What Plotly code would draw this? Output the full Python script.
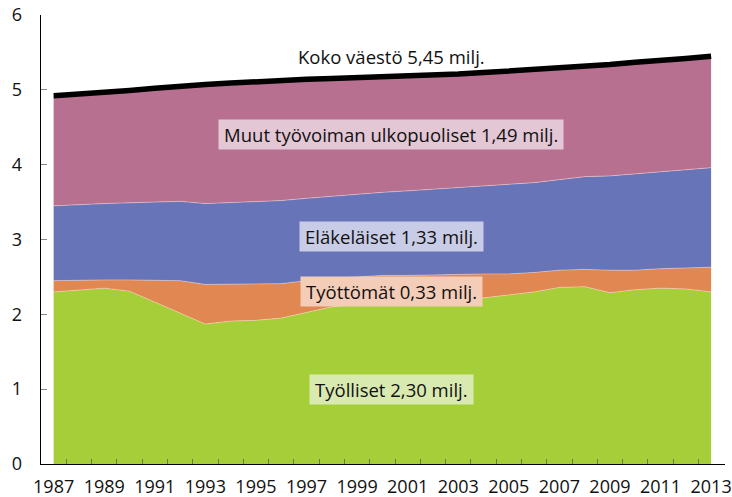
import plotly.graph_objects as go

years = list(range(1987, 2014))

# millions of persons
tyolliset = [2.30, 2.33, 2.35, 2.31, 2.16, 2.02, 1.87, 1.91, 1.92, 1.95, 2.03, 2.10, 2.13,
             2.14, 2.16, 2.18, 2.20, 2.22, 2.26, 2.30, 2.36, 2.37, 2.29, 2.33, 2.35, 2.34, 2.30]
tyottomat = [0.15, 0.13, 0.11, 0.15, 0.29, 0.43, 0.53, 0.49, 0.48, 0.46, 0.42, 0.38, 0.37,
             0.38, 0.36, 0.35, 0.33, 0.32, 0.28, 0.26, 0.23, 0.23, 0.30, 0.26, 0.26, 0.28, 0.33]
elakelaiset = [1.00, 1.01, 1.02, 1.03, 1.05, 1.06, 1.08, 1.09, 1.10, 1.11, 1.10, 1.10, 1.10,
               1.11, 1.13, 1.14, 1.16, 1.17, 1.19, 1.20, 1.21, 1.24, 1.26, 1.29, 1.30, 1.32, 1.33]
muut = [1.47, 1.47, 1.48, 1.50, 1.52, 1.54, 1.59, 1.60, 1.61, 1.61, 1.59, 1.57, 1.56,
        1.54, 1.53, 1.53, 1.52, 1.52, 1.52, 1.51, 1.49, 1.48, 1.49, 1.49, 1.48, 1.48, 1.49]
koko_vaesto = [4.92, 4.94, 4.96, 4.99, 5.02, 5.05, 5.07, 5.09, 5.11, 5.13, 5.14, 5.15, 5.16,
               5.17, 5.18, 5.20, 5.21, 5.23, 5.25, 5.27, 5.29, 5.32, 5.34, 5.37, 5.39, 5.42, 5.45]

tick_years = years[::2]
tick_labels = [str(y) for y in tick_years]
minor_ticks = [y + 0.5 for y in years[:-1]]

series = [
    ("Työlliset", tyolliset, "#a6ce39"),
    ("Työttömät", tyottomat, "#e08752"),
    ("Eläkeläiset", elakelaiset, "#6774b8"),
    ("Muut työvoiman ulkopuoliset", muut, "#b7708f"),
]

labels = [
    ("Työlliset 2,30 milj.", 2000.35, 1.00, "#d9eab0"),
    ("Työttömät 0,33 milj.", 2000.35, 2.30, "#f4cdb8"),
    ("Eläkeläiset 1,33 milj.", 2000.35, 3.04, "#c9cce6"),
    ("Muut työvoiman ulkopuoliset 1,49 milj.", 2000.35, 4.40, "#e4c7d5"),
    ("Koko väestö 5,45 milj.", 2000.35, 5.44, None),
]

FONT = "Open Sans"

fig = go.Figure()
for name, vals, col in series:
    fig.add_trace(go.Scatter(
        x=years, y=vals, name=name, mode="lines", stackgroup="one",
        line=dict(width=0.8, color="rgba(255,225,215,0.55)"),
        fillcolor=col, showlegend=False, hoverinfo="skip"))

fig.add_trace(go.Scatter(
    x=years, y=koko_vaesto, mode="lines", name="Koko väestö",
    line=dict(color="black", width=5.5), showlegend=False, hoverinfo="skip"))

for text, x, y, bg in labels:
    ann = dict(x=x, y=y, xref="x", yref="y", text=text, showarrow=False,
               font=dict(family=FONT, size=18.5, color="#111111"),
               xanchor="center", yanchor="middle", borderpad=2)
    if bg:
        ann["bgcolor"] = bg
        ann["text"] = "\u2009" + text + "\u2009"
    fig.add_annotation(**ann)

fig.update_layout(
    width=732, height=497,
    margin=dict(l=41, r=7, t=15, b=33),
    paper_bgcolor="white", plot_bgcolor="white",
    font=dict(family=FONT, size=18, color="#111111"),
    xaxis=dict(
        range=[1986.5, 2013.55], showgrid=False, zeroline=False, automargin=False,
        showline=True, linecolor="black", linewidth=1.3,
        tickmode="array", tickvals=tick_years, ticktext=tick_labels,
        ticks="", ticklabelstandoff=6,
        tickfont=dict(family=FONT, size=18, color="#111111"),
        minor=dict(tickmode="array", tickvals=minor_ticks, ticks="inside",
                   ticklen=5, tickcolor="#6a7a4a", tickwidth=1),
    ),
    yaxis=dict(
        range=[0, 6], dtick=1, showgrid=False, zeroline=False, automargin=False,
        showline=True, linecolor="black", linewidth=1.3,
        ticks="inside", ticklen=6, tickcolor="#888888", tickwidth=1,
        ticklabelstandoff=14,
        tickfont=dict(family=FONT, size=18, color="#111111"),
    ),
)

fig.write_html(
    "out.html",
    config={"displayModeBar": False, "staticPlot": True},
    post_script="document.documentElement.style.margin='0';"
                "document.body.style.margin='0';"
                "document.body.style.overflow='hidden';",
)
